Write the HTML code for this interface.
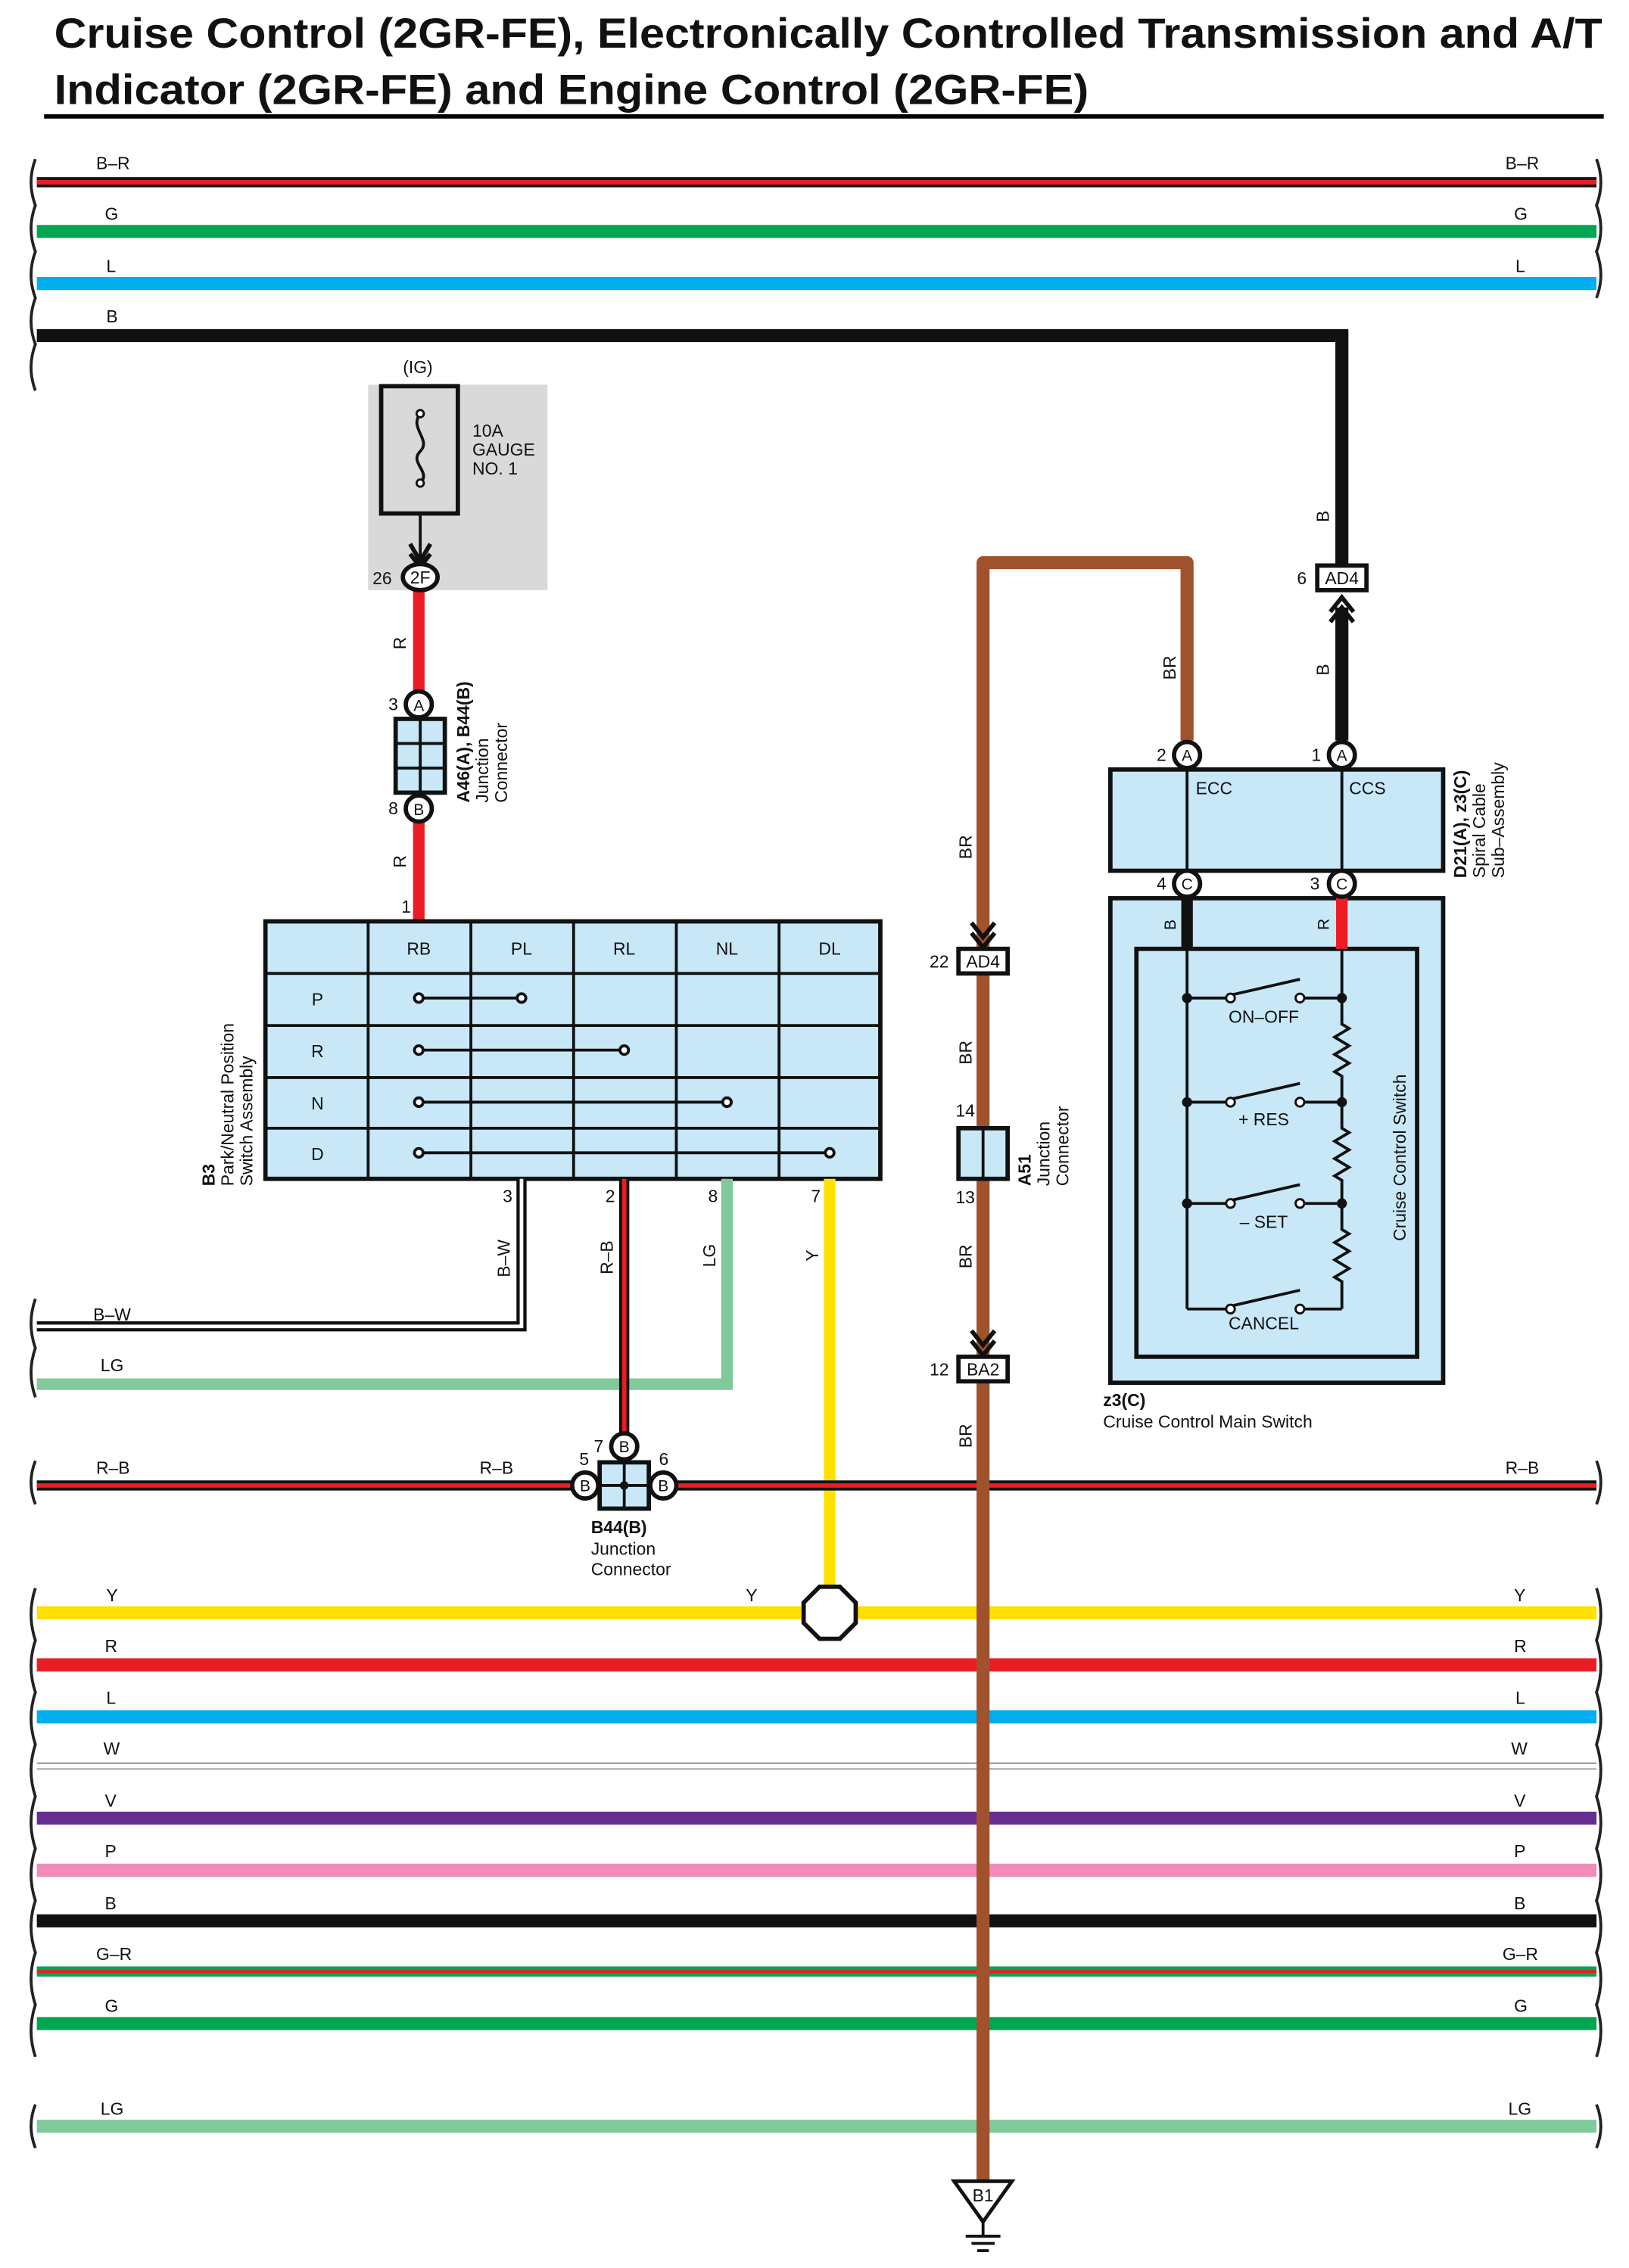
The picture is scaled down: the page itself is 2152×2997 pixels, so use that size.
<!DOCTYPE html>
<html><head><meta charset="utf-8"><style>
html,body{margin:0;padding:0;background:#fff}
svg{display:block}
text{font-family:"Liberation Sans",sans-serif;fill:#111}
</style></head><body>
<svg width="2152" height="2997" viewBox="0 0 1125 1568" xmlns="http://www.w3.org/2000/svg">
<!-- Title -->
<text x="37" y="33" font-size="29" font-weight="bold" textLength="1070" lengthAdjust="spacingAndGlyphs">Cruise Control (2GR-FE), Electronically Controlled Transmission and A/T</text>
<text x="37" y="72" font-size="29" font-weight="bold" textLength="715" lengthAdjust="spacingAndGlyphs">Indicator (2GR-FE) and Engine Control (2GR-FE)</text>
<rect x="30" y="79" width="1078" height="3" fill="#000"/>

<g fill="none" stroke="#222" stroke-width="2">
<!-- left squiggles -->
<path d="M24,110 q-6,16 0,32 q-6,16 0,32 q-6,16 0,32 q-6,16 0,32 q-6,16 0,32"/>
<path d="M24,898 q-6,17 0,34 q-6,17 0,34"/>
<path d="M24,1010 q-6,15 0,30"/>
<path d="M24,1098 q-6,18 0,36 q-6,18 0,36 q-6,18 0,36 q-6,18 0,36 q-6,18 0,36 q-6,18 0,36 q-6,18 0,36 q-6,18 0,36 q-6,18 0,36"/>
<path d="M24,1455 q-6,15 0,30"/>
<!-- right squiggles -->
<path d="M1103,110 q6,16 0,32 q6,16 0,32 q6,16 0,32"/>
<path d="M1103,1010 q6,15 0,30"/>
<path d="M1103,1098 q6,18 0,36 q6,18 0,36 q6,18 0,36 q6,18 0,36 q6,18 0,36 q6,18 0,36 q6,18 0,36 q6,18 0,36 q6,18 0,36"/>
<path d="M1103,1455 q6,15 0,30"/>
</g>

<!-- top wires -->
<line x1="25" y1="126" x2="1103" y2="126" stroke="#111" stroke-width="7"/>
<line x1="25" y1="126" x2="1103" y2="126" stroke="#ed1c24" stroke-width="3"/>
<line x1="25" y1="160" x2="1103" y2="160" stroke="#00a651" stroke-width="9"/>
<line x1="25" y1="196" x2="1103" y2="196" stroke="#00aeef" stroke-width="9"/>
<path d="M25,232 H927 V392" fill="none" stroke="#111" stroke-width="9"/>
<g font-size="12">
<text x="66" y="117">B–R</text><text x="1040" y="117">B–R</text>
<text x="72" y="152">G</text><text x="1046" y="152">G</text>
<text x="73" y="188">L</text><text x="1047" y="188">L</text>
<text x="73" y="223">B</text>
</g>

<!-- Fuse -->
<rect x="254" y="266" width="124" height="142" fill="#d9d9d9"/>
<rect x="263" y="267" width="53" height="88" fill="none" stroke="#111" stroke-width="3"/>
<path d="M290,286 c-8,10 8,18 0,26 c-8,8 8,14 0,22" fill="none" stroke="#111" stroke-width="2"/>
<circle cx="290" cy="286" r="2.5" fill="#fff" stroke="#111" stroke-width="1.5"/>
<circle cx="290" cy="334" r="2.5" fill="#fff" stroke="#111" stroke-width="1.5"/>
<line x1="290" y1="355" x2="290" y2="388" stroke="#111" stroke-width="2"/>
<path d="M283,376 L290,388 L297,376 M283,383 L290,392 L297,383" fill="none" stroke="#111" stroke-width="3"/>
<text x="278" y="258" font-size="12">(IG)</text>
<text x="326" y="302" font-size="12">10A</text>
<text x="326" y="315" font-size="12">GAUGE</text>
<text x="326" y="328" font-size="12">NO. 1</text>
<line x1="289" y1="408" x2="289" y2="637" stroke="#ed1c24" stroke-width="8"/>
<ellipse cx="290" cy="399" rx="12" ry="9" fill="#fff" stroke="#111" stroke-width="3"/>
<text x="290" y="403.5" font-size="12" text-anchor="middle">2F</text>
<text x="257" y="404" font-size="12">26</text>

<!-- A46/B44 junction -->
<rect x="273" y="497" width="34" height="51" fill="#c8e8f8" stroke="#111" stroke-width="3"/>
<line x1="290" y1="497" x2="290" y2="548" stroke="#111" stroke-width="2"/>
<line x1="273" y1="514" x2="307" y2="514" stroke="#111" stroke-width="2"/>
<line x1="273" y1="531" x2="307" y2="531" stroke="#111" stroke-width="2"/>
<circle cx="289" cy="487" r="9" fill="#fff" stroke="#111" stroke-width="3"/><text x="289" y="491.5" font-size="11" text-anchor="middle">A</text>
<circle cx="289" cy="559" r="9" fill="#fff" stroke="#111" stroke-width="3"/><text x="289" y="563.5" font-size="11" text-anchor="middle">B</text>
<text x="268" y="491" font-size="12">3</text><text x="268" y="563" font-size="12">8</text>
<text transform="translate(280,449) rotate(-90)" font-size="12">R</text>
<text transform="translate(280,600) rotate(-90)" font-size="12">R</text>
<text x="277" y="631" font-size="12">1</text>
<g transform="translate(324,555) rotate(-90)" font-size="12">
<text x="0" y="0" font-weight="bold">A46(A), B44(B)</text>
<text x="0" y="13">Junction</text>
<text x="0" y="26">Connector</text>
</g>

<!-- P/N switch table -->
<rect x="183" y="637" width="425" height="178" fill="#c8e8f8" stroke="#111" stroke-width="3"/>
<g stroke="#111" stroke-width="2">
<line x1="254" y1="637" x2="254" y2="815"/><line x1="325" y1="637" x2="325" y2="815"/>
<line x1="396" y1="637" x2="396" y2="815"/><line x1="467" y1="637" x2="467" y2="815"/>
<line x1="538" y1="637" x2="538" y2="815"/>
<line x1="183" y1="673" x2="608" y2="673"/><line x1="183" y1="709" x2="608" y2="709"/>
<line x1="183" y1="745" x2="608" y2="745"/><line x1="183" y1="780" x2="608" y2="780"/>
</g>
<g font-size="12" text-anchor="middle">
<text x="289" y="660">RB</text><text x="360" y="660">PL</text><text x="431" y="660">RL</text><text x="502" y="660">NL</text><text x="573" y="660">DL</text>
<text x="219" y="695">P</text><text x="219" y="731">R</text><text x="219" y="767">N</text><text x="219" y="802">D</text>
</g>
<g stroke="#111" stroke-width="2" fill="#fff">
<line x1="289" y1="690" x2="360" y2="690"/><line x1="289" y1="726" x2="431" y2="726"/>
<line x1="289" y1="762" x2="502" y2="762"/><line x1="289" y1="797" x2="573" y2="797"/>
<circle cx="289" cy="690" r="3"/><circle cx="360" cy="690" r="3"/>
<circle cx="289" cy="726" r="3"/><circle cx="431" cy="726" r="3"/>
<circle cx="289" cy="762" r="3"/><circle cx="502" cy="762" r="3"/>
<circle cx="289" cy="797" r="3"/><circle cx="573" cy="797" r="3"/>
</g>
<g transform="translate(148,820) rotate(-90)" font-size="12">
<text x="0" y="0" font-weight="bold">B3</text>
<text x="0" y="13">Park/Neutral Position</text>
<text x="0" y="26">Switch Assembly</text>
</g>

<!-- Switch outputs -->
<path d="M360,815 V917 H25" fill="none" stroke="#111" stroke-width="7"/>
<path d="M360,815 V917 H25" fill="none" stroke="#fff" stroke-width="2.5"/>
<path d="M502,815 V957 H25" fill="none" stroke="#80c99a" stroke-width="8"/>
<line x1="431" y1="815" x2="431" y2="993" stroke="#111" stroke-width="7"/>
<line x1="431" y1="815" x2="431" y2="993" stroke="#ed1c24" stroke-width="3"/>
<line x1="573" y1="815" x2="573" y2="1100" stroke="#ffe000" stroke-width="8"/>
<g font-size="12">
<text x="347" y="831">3</text><text x="418" y="831">2</text><text x="489" y="831">8</text><text x="560" y="831">7</text>
<text transform="translate(352,883) rotate(-90)">B–W</text>
<text transform="translate(423,881) rotate(-90)">R–B</text>
<text transform="translate(494,876) rotate(-90)">LG</text>
<text transform="translate(565,872) rotate(-90)">Y</text>
<text x="64" y="913">B–W</text><text x="69" y="948">LG</text>
</g>

<!-- R-B bus -->
<line x1="25" y1="1027" x2="1103" y2="1027" stroke="#111" stroke-width="7"/>
<line x1="25" y1="1027" x2="1103" y2="1027" stroke="#ed1c24" stroke-width="3"/>
<rect x="414" y="1011" width="34" height="32" fill="#c8e8f8" stroke="#111" stroke-width="3"/>
<line x1="431" y1="1011" x2="431" y2="1043" stroke="#111" stroke-width="2"/>
<line x1="414" y1="1027" x2="448" y2="1027" stroke="#111" stroke-width="2"/>
<circle cx="431" cy="1027" r="3" fill="#111"/>
<g font-size="11" text-anchor="middle">
<circle cx="431" cy="1000" r="9" fill="#fff" stroke="#111" stroke-width="3"/><text x="431" y="1004">B</text>
<circle cx="404" cy="1027" r="9" fill="#fff" stroke="#111" stroke-width="3"/><text x="404" y="1031">B</text>
<circle cx="458" cy="1027" r="9" fill="#fff" stroke="#111" stroke-width="3"/><text x="458" y="1031">B</text>
</g>
<g font-size="12">
<text x="410" y="1004">7</text><text x="400" y="1013">5</text><text x="455" y="1013">6</text>
<text x="66" y="1019">R–B</text><text x="331" y="1019">R–B</text><text x="1040" y="1019">R–B</text>
<text x="408" y="1060" font-weight="bold">B44(B)</text>
<text x="408" y="1075">Junction</text>
<text x="408" y="1089">Connector</text>
</g>

<!-- Bottom wires -->
<line x1="25" y1="1115" x2="1103" y2="1115" stroke="#ffe000" stroke-width="9"/>
<line x1="25" y1="1151" x2="1103" y2="1151" stroke="#ed1c24" stroke-width="9"/>
<line x1="25" y1="1187" x2="1103" y2="1187" stroke="#00aeef" stroke-width="9"/>
<line x1="25" y1="1221" x2="1103" y2="1221" stroke="#999" stroke-width="5"/>
<line x1="25" y1="1221" x2="1103" y2="1221" stroke="#fff" stroke-width="3"/>
<line x1="25" y1="1257" x2="1103" y2="1257" stroke="#662d91" stroke-width="9"/>
<line x1="25" y1="1293" x2="1103" y2="1293" stroke="#f08cb9" stroke-width="9"/>
<line x1="25" y1="1328" x2="1103" y2="1328" stroke="#111" stroke-width="9"/>
<line x1="25" y1="1363" x2="1103" y2="1363" stroke="#00a651" stroke-width="7"/>
<line x1="25" y1="1363" x2="1103" y2="1363" stroke="#ed1c24" stroke-width="2"/>
<line x1="25" y1="1399" x2="1103" y2="1399" stroke="#00a651" stroke-width="9"/>
<line x1="25" y1="1470" x2="1103" y2="1470" stroke="#80c99a" stroke-width="9"/>
<g font-size="12">
<text x="73" y="1107">Y</text><text x="515" y="1107">Y</text><text x="1046" y="1107">Y</text>
<text x="72" y="1142">R</text><text x="1046" y="1142">R</text>
<text x="73" y="1178">L</text><text x="1047" y="1178">L</text>
<text x="71" y="1213">W</text><text x="1044" y="1213">W</text>
<text x="72" y="1249">V</text><text x="1046" y="1249">V</text>
<text x="72" y="1284">P</text><text x="1046" y="1284">P</text>
<text x="72" y="1320">B</text><text x="1046" y="1320">B</text>
<text x="66" y="1355">G–R</text><text x="1038" y="1355">G–R</text>
<text x="72" y="1391">G</text><text x="1046" y="1391">G</text>
<text x="69" y="1462">LG</text><text x="1042" y="1462">LG</text>
</g>
<polygon points="566,1097 580,1097 591,1108 591,1122 580,1133 566,1133 555,1122 555,1108" fill="#fff" stroke="#111" stroke-width="3"/>

<!-- BR wire -->
<path d="M679,1508 V389 H820 V512" fill="none" stroke="#a0522d" stroke-width="9" stroke-linejoin="round"/>
<path d="M671,638 L679,648 L687,638 M671,645 L679,655 L687,645" fill="none" stroke="#111" stroke-width="3"/>
<rect x="662" y="656" width="34" height="17" fill="#fff" stroke="#111" stroke-width="3"/>
<text x="679" y="669" font-size="12" text-anchor="middle">AD4</text>
<text x="642" y="669" font-size="12">22</text>
<rect x="662" y="780" width="34" height="35" fill="#c8e8f8" stroke="#111" stroke-width="3"/>
<line x1="679" y1="780" x2="679" y2="815" stroke="#111" stroke-width="2"/>
<text x="660" y="772" font-size="12">14</text><text x="660" y="832" font-size="12">13</text>
<g transform="translate(712,820) rotate(-90)" font-size="12">
<text x="0" y="0" font-weight="bold">A51</text>
<text x="0" y="13">Junction</text>
<text x="0" y="26">Connector</text>
</g>
<path d="M671,920 L679,930 L687,920 M671,927 L679,937 L687,927" fill="none" stroke="#111" stroke-width="3"/>
<rect x="662" y="938" width="34" height="17" fill="#fff" stroke="#111" stroke-width="3"/>
<text x="679" y="951" font-size="12" text-anchor="middle">BA2</text>
<text x="642" y="951" font-size="12">12</text>
<g font-size="12">
<text transform="translate(671,594) rotate(-90)">BR</text>
<text transform="translate(671,736) rotate(-90)">BR</text>
<text transform="translate(671,877) rotate(-90)">BR</text>
<text transform="translate(671,1001) rotate(-90)">BR</text>
<text transform="translate(812,470) rotate(-90)">BR</text>
</g>
<!-- ground -->
<polygon points="659,1508 699,1508 679,1536" fill="#fff" stroke="#111" stroke-width="2.5"/>
<text x="679" y="1522" font-size="12" text-anchor="middle">B1</text>
<g stroke="#111" stroke-width="2">
<line x1="679" y1="1536" x2="679" y2="1546"/>
<line x1="667" y1="1546" x2="691" y2="1546"/>
<line x1="671" y1="1551" x2="687" y2="1551"/>
<line x1="675" y1="1556" x2="683" y2="1556"/>
</g>

<!-- B wire AD4 -->
<rect x="910" y="391" width="34" height="17" fill="#fff" stroke="#111" stroke-width="3"/>
<text x="927" y="404" font-size="12" text-anchor="middle">AD4</text>
<text x="896" y="404" font-size="12">6</text>
<line x1="927" y1="420" x2="927" y2="512" stroke="#111" stroke-width="9"/>
<path d="M919,423 L927,413 L935,423 M919,430 L927,420 L935,430" fill="none" stroke="#111" stroke-width="3"/>
<text transform="translate(918,361) rotate(-90)" font-size="12">B</text>
<text transform="translate(918,467) rotate(-90)" font-size="12">B</text>

<!-- D21 spiral cable -->
<rect x="767" y="532" width="230" height="70" fill="#c8e8f8" stroke="#111" stroke-width="3"/>
<line x1="820" y1="532" x2="820" y2="602" stroke="#111" stroke-width="2"/>
<line x1="927" y1="532" x2="927" y2="602" stroke="#111" stroke-width="2"/>
<text x="826" y="549" font-size="12">ECC</text>
<text x="932" y="549" font-size="12">CCS</text>
<g font-size="11" text-anchor="middle">
<circle cx="820" cy="522" r="9" fill="#fff" stroke="#111" stroke-width="3"/><text x="820" y="526">A</text>
<circle cx="927" cy="522" r="9" fill="#fff" stroke="#111" stroke-width="3"/><text x="927" y="526">A</text>
</g>
<text x="799" y="526" font-size="12">2</text><text x="906" y="526" font-size="12">1</text>
<g transform="translate(1013,607) rotate(-90)" font-size="12">
<text x="0" y="0" font-weight="bold">D21(A), z3(C)</text>
<text x="0" y="13">Spiral Cable</text>
<text x="0" y="26">Sub–Assembly</text>
</g>

<!-- Main switch -->
<rect x="767" y="621" width="230" height="335" fill="#c8e8f8" stroke="#111" stroke-width="3"/>
<rect x="785" y="656" width="194" height="282" fill="#c8e8f8" stroke="#111" stroke-width="3"/>
<line x1="820" y1="615" x2="820" y2="656" stroke="#111" stroke-width="8"/>
<line x1="927" y1="615" x2="927" y2="656" stroke="#ed1c24" stroke-width="8"/>
<g font-size="11" text-anchor="middle">
<circle cx="820" cy="611" r="9" fill="#fff" stroke="#111" stroke-width="3"/><text x="820" y="615">C</text>
<circle cx="927" cy="611" r="9" fill="#fff" stroke="#111" stroke-width="3"/><text x="927" y="615">C</text>
</g>
<text x="799" y="615" font-size="12">4</text><text x="905" y="615" font-size="12">3</text>
<text transform="translate(812,643) rotate(-90)" font-size="11">B</text>
<text transform="translate(918,643) rotate(-90)" font-size="11">R</text>
<g stroke="#111" stroke-width="2" fill="none">
<line x1="820" y1="656" x2="820" y2="905"/>
<line x1="927" y1="656" x2="927" y2="690"/>
<path d="M927,690 V708 l5,3 l-10,6 l10,6 l-10,6 l10,6 l-10,6 l5,3 V762"/>
<path d="M927,762 V780 l5,3 l-10,6 l10,6 l-10,6 l10,6 l-10,6 l5,3 V832"/>
<path d="M927,832 V850 l5,3 l-10,6 l10,6 l-10,6 l10,6 l-10,6 l5,3 V905"/>
<line x1="820" y1="690" x2="847" y2="690"/><line x1="850" y1="688" x2="898" y2="677"/><line x1="900" y1="690" x2="927" y2="690"/>
<line x1="820" y1="762" x2="847" y2="762"/><line x1="850" y1="760" x2="898" y2="749"/><line x1="900" y1="762" x2="927" y2="762"/>
<line x1="820" y1="832" x2="847" y2="832"/><line x1="850" y1="830" x2="898" y2="819"/><line x1="900" y1="832" x2="927" y2="832"/>
<line x1="820" y1="905" x2="847" y2="905"/><line x1="850" y1="903" x2="898" y2="892"/><line x1="900" y1="905" x2="927" y2="905"/>
</g>
<g fill="#111">
<circle cx="820" cy="690" r="3.5"/><circle cx="927" cy="690" r="3.5"/>
<circle cx="820" cy="762" r="3.5"/><circle cx="927" cy="762" r="3.5"/>
<circle cx="820" cy="832" r="3.5"/><circle cx="927" cy="832" r="3.5"/>
</g>
<g fill="#fff" stroke="#111" stroke-width="1.5">
<circle cx="850" cy="690" r="3"/><circle cx="898" cy="690" r="3"/>
<circle cx="850" cy="762" r="3"/><circle cx="898" cy="762" r="3"/>
<circle cx="850" cy="832" r="3"/><circle cx="898" cy="832" r="3"/>
<circle cx="850" cy="905" r="3"/><circle cx="898" cy="905" r="3"/>
</g>
<g font-size="12" text-anchor="middle">
<text x="873" y="707">ON–OFF</text><text x="873" y="778">+ RES</text>
<text x="873" y="849">– SET</text><text x="873" y="919">CANCEL</text>
</g>
<text transform="translate(971,858) rotate(-90)" font-size="12">Cruise Control Switch</text>
<text x="762" y="972" font-size="12" font-weight="bold">z3(C)</text>
<text x="762" y="987" font-size="12">Cruise Control Main Switch</text>
</svg>
</body></html>
